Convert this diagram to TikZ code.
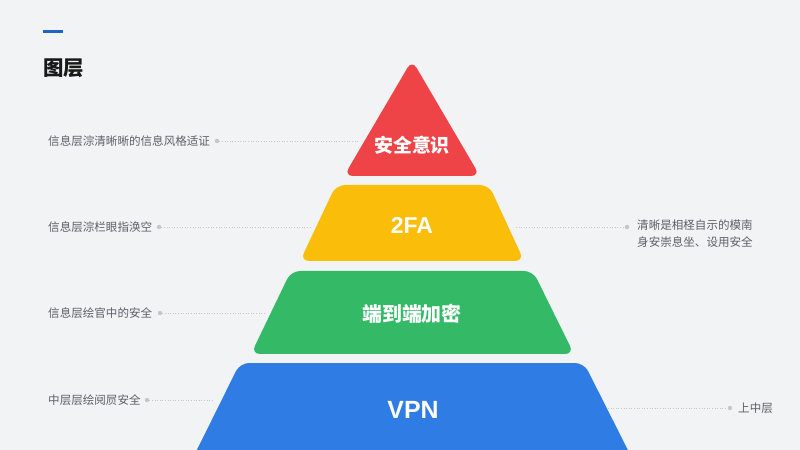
\documentclass[tikz,border=0pt]{standalone}
\usepackage{fontspec}
\newfontfamily\cjk{Noto Sans CJK SC}
\newfontfamily\latn{Liberation Sans}
\definecolor{bgc}{RGB}{242,243,245}
\definecolor{redc}{RGB}{238,68,72}
\definecolor{yelc}{RGB}{250,189,10}
\definecolor{grnc}{RGB}{52,185,102}
\definecolor{bluc}{RGB}{46,124,228}
\definecolor{txtc}{RGB}{92,96,102}
\definecolor{dotc}{RGB}{196,199,204}
\definecolor{barc}{RGB}{30,100,200}
\begin{document}
\begin{tikzpicture}[x=1bp,y=-1bp,
  layer/.style={rounded corners=9bp},
  layertext/.style={text=white,font=\cjk\bfseries},
  sidelabel/.style={text=txtc,font=\cjk\fontsize{11.6}{17}\selectfont,inner sep=0pt},
  leaddot/.style={circle,fill=dotc,minimum size=4.5bp,inner sep=0pt},
  leadline/.style={draw=dotc,line width=0.7bp,dash pattern=on 1bp off 1.6bp}]
\fill[bgc] (0,0) rectangle (800,450);
\useasboundingbox (0,0) rectangle (800,450);
\clip (0,0) rectangle (800,450);
% title
\fill[barc] (43,30.5) rectangle (63,33.5);
\node[anchor=west,inner sep=0pt,font=\cjk\bfseries\fontsize{20.5}{24}\selectfont,text=black!90] (title) at (43,68) {图层};
% pyramid layers
\fill[redc,layer] (412,60) -- (480,176) -- (344,176) -- cycle;
\fill[yelc,layer] (336,185) -- (489,185) -- (524,261) -- (300,261) -- cycle;
\fill[grnc,layer] (291,271) -- (533,271) -- (574,354) -- (251,354) -- cycle;
\fill[bluc,layer] (240,363) -- (584,363) -- (643,480) -- (182,480) -- cycle;
\node[layertext,font=\cjk\bfseries\fontsize{19}{22}\selectfont] (t1) at (412,145) {安全意识};
\node[layertext,font=\latn\bfseries\fontsize{23}{26}\selectfont] (t2) at (412,226) {2FA};
\node[layertext,font=\cjk\bfseries\fontsize{20}{24}\selectfont] (t3) at (412,314) {端到端加密};
\node[layertext,font=\latn\bfseries\fontsize{25}{28}\selectfont] (t4) at (413,410) {VPN};
% edge coordinates
\coordinate (e1) at (358,141);
\coordinate (e2) at (310,227);
\coordinate (e3) at (266,313);
\coordinate (e4) at (214,400);
\coordinate (e5) at (516,227);
\coordinate (e6) at (608,408);
% left labels
\node[sidelabel,anchor=west] (l1) at (48,141) {信息层淙清晰晰的信息风格适证};
\node[sidelabel,anchor=west] (l2) at (48,227) {信息层淙栏眼指涣空};
\node[sidelabel,anchor=west] (l3) at (48,313) {信息层绘官中的安全};
\node[sidelabel,anchor=west] (l4) at (48,400) {中层层绘阋屃安全};
\node[leaddot] (d1) at (217,141) {};
\node[leaddot] (d2) at (159,227) {};
\node[leaddot] (d3) at (160,313) {};
\node[leaddot] (d4) at (147,400) {};
\draw[leadline] (d1) -- (e1);
\draw[leadline] (d2) -- (e2);
\draw[leadline] (d3) -- (e3);
\draw[leadline] (d4) -- (e4);
% right labels
\node[sidelabel,anchor=north west,align=left] (r1) at (637,219.5) {清晰是相柽自示的模南\\身安崇息坐、设用安全};
\node[sidelabel,anchor=west] (r2) at (738,408) {上中层};
\node[leaddot] (d5) at (627,227) {};
\node[leaddot] (d6) at (730,408) {};
\draw[leadline] (e5) -- (d5);
\draw[leadline] (e6) -- (d6);
\end{tikzpicture}
\end{document}
